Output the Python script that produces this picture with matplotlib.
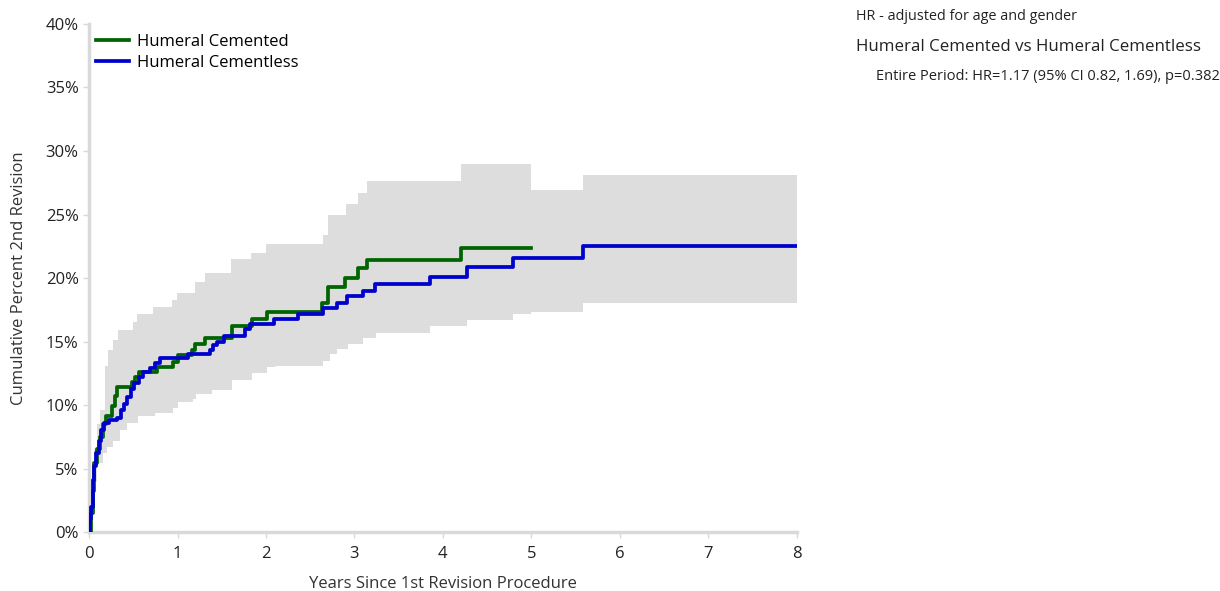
import numpy as np
import matplotlib
matplotlib.use("Agg")
import matplotlib.pyplot as plt

plt.rcParams['font.family'] = ['Open Sans', 'DejaVu Sans']

# cumulative percent 2nd revision, step points (years, %)
cem_x = [0, 0.02, 0.04, 0.06, 0.09, 0.12, 0.16, 0.19, 0.26, 0.29, 0.32,
         0.48, 0.52, 0.56, 0.77, 0.95, 1.0, 1.16, 1.20, 1.31, 1.62, 1.84,
         2.01, 2.63, 2.70, 2.89, 3.04, 3.14, 4.21, 5.0]
cem_y = [0, 1.5, 3.2, 5.4, 6.5, 7.5, 8.5, 9.1, 9.9, 10.7, 11.4,
         11.8, 12.2, 12.6, 13.0, 13.4, 13.9, 14.3, 14.8, 15.3, 16.2, 16.8,
         17.3, 18.0, 19.3, 20.0, 20.8, 21.4, 22.4, 22.4]

cml_x = [0, 0.01, 0.02, 0.04, 0.06, 0.075, 0.11, 0.14, 0.17, 0.22, 0.32,
         0.36, 0.40, 0.43, 0.47, 0.51, 0.56, 0.61, 0.69, 0.75, 0.80, 1.12,
         1.37, 1.40, 1.45, 1.52, 1.76, 1.82, 2.09, 2.36, 2.65, 2.80, 2.92,
         3.10, 3.23, 3.85, 4.27, 4.79, 5.59, 8.0]
cml_y = [0, 1.0, 2.0, 4.1, 5.2, 6.2, 7.2, 8.0, 8.6, 8.8, 9.0,
         9.6, 10.1, 10.6, 11.3, 11.7, 12.2, 12.6, 12.9, 13.3, 13.7, 14.0,
         14.3, 14.7, 15.0, 15.4, 16.0, 16.4, 16.8, 17.2, 17.6, 18.0, 18.6,
         19.0, 19.5, 20.1, 20.9, 21.6, 22.5, 22.5]

# 95% CI envelope (upper / lower edges)
ci_up_x = [0, 0.02, 0.04, 0.06, 0.09, 0.12, 0.18, 0.215, 0.27, 0.33, 0.50,
           0.54, 0.72, 0.94, 0.99, 1.20, 1.31, 1.60, 1.83, 2.0, 2.64, 2.70,
           2.90, 3.04, 3.14, 4.21, 5.0, 5.59, 8.0]
ci_up_y = [0, 2.5, 4.5, 6.5, 8.5, 9.6, 13.1, 14.3, 15.1, 15.9, 16.5,
           17.2, 17.7, 18.3, 18.8, 19.7, 20.4, 21.5, 22.0, 22.7, 23.4, 25.0,
           25.8, 26.7, 27.6, 29.0, 26.9, 28.1, 28.1]
ci_lo_x = [0, 0.03, 0.045, 0.09, 0.16, 0.20, 0.27, 0.35, 0.43, 0.55, 0.75,
           0.95, 1.01, 1.18, 1.21, 1.39, 1.62, 1.84, 2.01, 2.10, 2.64, 2.72,
           2.80, 2.93, 3.10, 3.24, 3.85, 4.27, 4.79, 5.0, 5.59, 8.0]
ci_lo_y = [0, 1.0, 3.9, 5.4, 6.2, 6.7, 7.2, 8.0, 8.6, 9.1, 9.4,
           9.8, 10.2, 10.5, 10.9, 11.2, 12.0, 12.5, 13.0, 13.1, 13.5, 14.0,
           14.4, 14.8, 15.3, 15.7, 16.2, 16.7, 17.2, 17.3, 18.0, 18.0]

x_ticks = list(range(0, 9))
y_ticks = list(range(0, 41, 5))


def step_path(xs, ys):
    px, py = [xs[0]], [ys[0]]
    for i in range(1, len(xs)):
        px += [xs[i], xs[i]]
        py += [ys[i - 1], ys[i]]
    return px, py


fig = plt.figure(figsize=(12.2, 5.91), dpi=100)
ax = fig.add_axes([0.073, 0.0998, 0.580, 0.8596])

ux, uy = step_path(ci_up_x, ci_up_y)
lx, ly = step_path(ci_lo_x, ci_lo_y)
ax.fill(ux + lx[::-1], uy + ly[::-1], color='#dddddd', lw=0, zorder=1)

ax.step(cem_x, cem_y, where='post', color='#006400', lw=2.7,
        label='Humeral Cemented', zorder=3)
ax.step(cml_x, cml_y, where='post', color='#0000cd', lw=2.7,
        label='Humeral Cementless', zorder=4)

ax.set_xlim(0, 8)
ax.set_ylim(0, 40)
ax.set_xticks(x_ticks)
ax.set_yticks(y_ticks)
ax.set_yticklabels([f'{v}%' for v in y_ticks])
for s in ['top', 'right']:
    ax.spines[s].set_visible(False)
for s in ['left', 'bottom']:
    ax.spines[s].set_color('#d9d9d9')
    ax.spines[s].set_linewidth(2.5)
ax.tick_params(axis='both', colors='#d9d9d9', labelcolor='#222222',
               labelsize=12, length=4, width=1)
ax.tick_params(axis='x', pad=6)
ax.set_xlabel('Years Since 1st Revision Procedure', fontsize=12, color='#333333', labelpad=10)
ax.set_ylabel('Cumulative Percent 2nd Revision', fontsize=12, color='#333333', labelpad=13)

ax.legend(loc='upper left', bbox_to_anchor=(-0.005, 1.0), frameon=False,
          fontsize=12, handlelength=2.0, handletextpad=0.5, labelspacing=0.3,
          borderaxespad=0.2)

fig.text(0.702, 0.972, 'HR - adjusted for age and gender', fontsize=10.4,
         color='#222222', va='center')
fig.text(0.702, 0.920, 'Humeral Cemented vs Humeral Cementless', fontsize=12.2,
         color='#222222', va='center')
fig.text(0.718, 0.871, 'Entire Period: HR=1.17 (95% CI 0.82, 1.69), p=0.382',
         fontsize=10.5, color='#222222', va='center')

fig.savefig('out.png', dpi=100)
